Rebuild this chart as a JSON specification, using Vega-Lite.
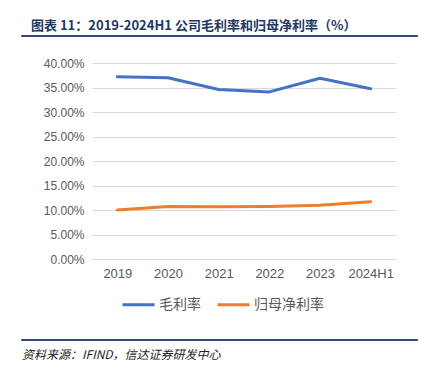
{
  "$schema": "https://vega.github.io/schema/vega-lite/v6.json",
  "padding": {"left": 20, "top": 19, "right": 5, "bottom": 5},
  "background": "white",
  "spacing": 20,
  "bounds": "full",
  "resolve": {"legend": {"color": "independent"}, "scale": {"color": "independent"}},
  "config": {"font": "Liberation Sans"},
  "vconcat": [
    {
      "width": 396,
      "height": 1,
      "title": {"text": "图表 11：2019-2024H1 公司毛利率和归母净利率（%）", "anchor": "start", "dx": 10, "offset": 2, "font": "Noto Sans CJK SC", "fontSize": 13, "fontWeight": "bold", "color": "#1f3864"},
      "data": {"values": []},
      "mark": "text",
      "encoding": {},
      "view": {"stroke": "#2f4b7c", "strokeWidth": 1, "fill": "#2f4b7c"}
    },
    {
      "spacing": 0,
      "bounds": "full",
      "resolve": {"legend": {"color": "independent"}, "scale": {"color": "independent"}},
      "hconcat": [
        {
          "width": 1,
          "height": 1,
          "data": {"values": []},
          "mark": "text",
          "encoding": {},
          "view": {"stroke": null}
        },
        {
          "width": 304,
          "height": 196,
          "data": {"values": [
            {"year": "2019", "series": "毛利率", "value": 0.372},
            {"year": "2020", "series": "毛利率", "value": 0.370},
            {"year": "2021", "series": "毛利率", "value": 0.346},
            {"year": "2022", "series": "毛利率", "value": 0.341},
            {"year": "2023", "series": "毛利率", "value": 0.369},
            {"year": "2024H1", "series": "毛利率", "value": 0.3475},
            {"year": "2019", "series": "归母净利率", "value": 0.100},
            {"year": "2020", "series": "归母净利率", "value": 0.107},
            {"year": "2021", "series": "归母净利率", "value": 0.1065},
            {"year": "2022", "series": "归母净利率", "value": 0.107},
            {"year": "2023", "series": "归母净利率", "value": 0.1095},
            {"year": "2024H1", "series": "归母净利率", "value": 0.117}
          ]},
          "mark": {"type": "line", "strokeWidth": 3, "strokeCap": "round", "strokeJoin": "round"},
          "encoding": {
            "x": {"field": "year", "type": "ordinal", "sort": null, "scale": {"type": "point", "padding": 0.5},
              "axis": {"title": null, "labelAngle": 0, "labelFontSize": 13, "labelColor": "#595959", "domain": false, "ticks": false, "labelPadding": 8, "grid": false}},
            "y": {"field": "value", "type": "quantitative", "scale": {"domain": [0, 0.4], "nice": false},
              "axis": {"title": null, "format": ".2%", "values": [0, 0.05, 0.1, 0.15, 0.2, 0.25, 0.3, 0.35, 0.4], "labelFontSize": 12, "labelColor": "#595959", "domain": false, "ticks": false, "labelPadding": 8, "gridColor": "#d9d9d9", "gridWidth": 1, "minExtent": 70}},
            "color": {"field": "series", "type": "nominal", "sort": ["毛利率", "归母净利率"],
              "scale": {"domain": ["毛利率", "归母净利率"], "range": ["#4472c4", "#ed7d31"]},
              "legend": {"title": null, "orient": "none", "legendX": 23, "legendY": 218, "direction": "horizontal", "padding": 6, "symbolType": "stroke", "symbolSize": 1024, "symbolStrokeWidth": 3, "labelFont": "Noto Sans CJK SC", "labelFontSize": 14, "labelColor": "#595959", "labelOffset": 3, "columnPadding": 10}}
          },
          "view": {"stroke": null}
        }
      ]
    },
    {
      "width": 396,
      "height": 1,
      "data": {"values": []},
      "mark": "text",
      "encoding": {},
      "view": {"stroke": "#2f4b7c", "strokeWidth": 1, "fill": "#2f4b7c"},
      "title": {"text": "资料来源：IFIND，信达证券研发中心", "orient": "bottom", "anchor": "start", "dx": 1, "offset": 10, "fontSize": 12, "fontStyle": "italic", "fontWeight": "normal", "color": "#222222", "font": "Noto Sans CJK SC"}
    }
  ]
}
